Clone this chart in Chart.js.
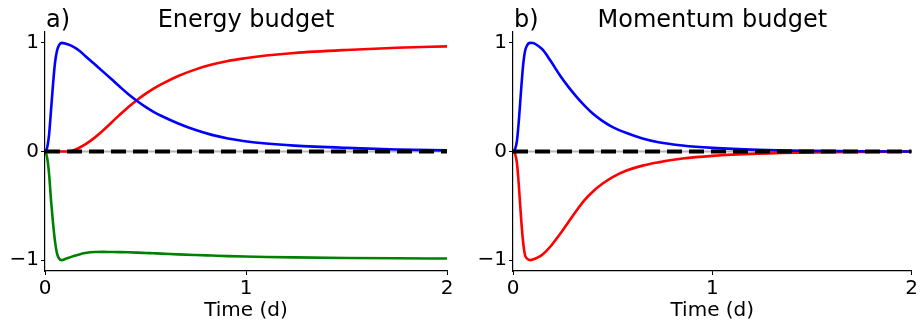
<!DOCTYPE html>
<html>
<head>
<meta charset="utf-8">
<script src="https://cdn.jsdelivr.net/npm/chart.js@4/dist/chart.umd.min.js"></script>
<style>
  html, body { margin: 0; padding: 0; background: #ffffff; }
  #wrap { position: relative; width: 920px; height: 325px; overflow: hidden; }
  canvas { position: absolute; top: 0; }
</style>
</head>
<body>
<div id="wrap">
  <canvas id="energy" width="460" height="325" style="left:0px"></canvas>
  <canvas id="momentum" width="460" height="325" style="left:460px"></canvas>
</div>
<script>
// ---- Energy budget (normalised terms vs time in days) ----
const energyTime  = [0, 0.01, 0.02, 0.03, 0.04, 0.05, 0.06, 0.07, 0.083, 0.1, 0.13, 0.166, 0.2, 0.249, 0.29, 0.33, 0.37, 0.415, 0.46, 0.5, 0.54, 0.58, 0.663, 0.75, 0.83, 0.91, 0.995, 1.1, 1.24, 1.5, 1.75, 2.0];
const energyBlue  = [0, 0.03, 0.15, 0.38, 0.62, 0.82, 0.93, 0.98, 1.0, 0.995, 0.975, 0.935, 0.88, 0.80, 0.733, 0.667, 0.60, 0.527, 0.462, 0.41, 0.365, 0.327, 0.258, 0.197, 0.153, 0.12, 0.095, 0.073, 0.054, 0.033, 0.019, 0.01];
const energyRed   = [0, 0, 0, 0, 0, 0, 0, 0, 0, 0, 0.005, 0.03, 0.065, 0.13, 0.195, 0.265, 0.335, 0.41, 0.477, 0.53, 0.578, 0.62, 0.695, 0.756, 0.80, 0.833, 0.858, 0.883, 0.907, 0.935, 0.955, 0.968];
const energyGreen = [0, -0.05, -0.2, -0.45, -0.66, -0.83, -0.94, -0.985, -1.0, -0.99, -0.97, -0.95, -0.935, -0.925, -0.924, -0.925, -0.926, -0.928, -0.931, -0.934, -0.937, -0.94, -0.947, -0.953, -0.958, -0.963, -0.967, -0.971, -0.975, -0.98, -0.983, -0.985];

// ---- Momentum budget ----
const momentumTime = [0, 0.01, 0.02, 0.03, 0.04, 0.05, 0.06, 0.07, 0.086, 0.1, 0.12, 0.15, 0.19, 0.236, 0.28, 0.32, 0.36, 0.40, 0.45, 0.5, 0.57, 0.65, 0.73, 0.85, 1.0, 1.23, 1.5, 1.75, 2.0];
const momentumBlue = [0, 0.02, 0.1, 0.3, 0.55, 0.78, 0.92, 0.975, 1.0, 0.998, 0.98, 0.935, 0.83, 0.70, 0.59, 0.50, 0.42, 0.35, 0.28, 0.225, 0.17, 0.12, 0.085, 0.055, 0.033, 0.015, 0.006, 0.002, 0];
const momentumRed  = [0, -0.02, -0.11, -0.33, -0.6, -0.82, -0.95, -0.985, -1.0, -0.995, -0.98, -0.945, -0.87, -0.76, -0.645, -0.54, -0.445, -0.37, -0.295, -0.235, -0.175, -0.13, -0.1, -0.065, -0.04, -0.02, -0.008, -0.003, 0];

// ---- Axes ----
const timeTicks  = [0, 1, 2];
const valueTicks = [-1, 0, 1];
const zeroLine   = [0, 0];
const zeroTime   = [0, 2];

const FONT = "'DejaVu Sans', sans-serif";

function pts(xs, ys) { return xs.map((x, i) => ({ x: x, y: ys[i] })); }

function curve(xs, ys, color) {
  return {
    data: pts(xs, ys),
    borderColor: color,
    borderWidth: 2.6,
    pointRadius: 0,
    fill: false,
    cubicInterpolationMode: 'monotone'
  };
}

// Panel letter and centred heading above the plot area
const headings = {
  id: 'headings',
  afterDraw(chart, args, opts) {
    const ctx = chart.ctx;
    const area = chart.chartArea;
    ctx.save();
    ctx.fillStyle = '#000000';
    ctx.font = '24px ' + FONT;
    ctx.textBaseline = 'alphabetic';
    ctx.textAlign = 'left';
    ctx.fillText(opts.letter, area.left + 1, 27);
    ctx.textAlign = 'center';
    ctx.fillText(opts.title, (area.left + area.right) / 2, 27);
    ctx.restore();
  }
};

function makePanel(canvasId, letter, title, yWidth, padRight, series) {
  const datasets = [
    { data: pts(zeroTime, zeroLine), borderColor: '#b4b4b4', borderWidth: 2, pointRadius: 0, order: 10 }
  ];
  series.forEach((s, i) => { const d = curve(s[0], s[1], s[2]); d.order = 5 - i; datasets.push(d); });
  datasets.push({ data: pts(zeroTime, zeroLine), borderColor: '#000000', borderWidth: 4, borderDash: [15, 7], pointRadius: 0, order: 0 });

  return new Chart(document.getElementById(canvasId), {
    type: 'line',
    data: { datasets: datasets },
    plugins: [headings],
    options: {
      responsive: false,
      animation: false,
      devicePixelRatio: 1,
      layout: { padding: { top: 32, right: padRight, bottom: 0, left: 0 }, autoPadding: false },
      plugins: {
        legend: { display: false },
        tooltip: { enabled: false },
        headings: { letter: letter, title: title }
      },
      scales: {
        x: {
          type: 'linear',
          min: 0, max: 2,
          afterBuildTicks: (scale) => { scale.ticks = timeTicks.map(v => ({ value: v })); },
          afterFit: (scale) => { scale.height = 54; },
          grid: { drawOnChartArea: false, drawTicks: true, tickLength: 4, tickWidth: 1, tickColor: '#000000' },
          border: { display: true, color: '#000000', width: 1.2 },
          ticks: { color: '#000000', font: { family: FONT, size: 20 }, padding: 2, maxRotation: 0, autoSkip: false,
                   callback: (v) => String(v) },
          title: { display: true, text: 'Time (d)', color: '#000000', font: { family: FONT, size: 20 }, padding: { top: 0, bottom: 2 } }
        },
        y: {
          type: 'linear',
          min: -1.1, max: 1.1,
          afterBuildTicks: (scale) => { scale.ticks = valueTicks.map(v => ({ value: v })); },
          afterFit: (scale) => { scale.width = yWidth; },
          grid: { drawOnChartArea: false, drawTicks: true, tickLength: 4, tickWidth: 1, tickColor: '#000000' },
          border: { display: true, color: '#000000', width: 1.2 },
          ticks: { color: '#000000', font: { family: FONT, size: 20 }, padding: 2, autoSkip: false,
                   callback: (v) => (v < 0 ? '\u2212' + Math.abs(v) : String(v)) }
        }
      }
    }
  });
}

makePanel('energy', 'a)', 'Energy budget', 45, 13, [
  [energyTime, energyGreen, '#008000'],
  [energyTime, energyRed, '#ff0000'],
  [energyTime, energyBlue, '#0000ff']
]);

makePanel('momentum', 'b)', 'Momentum budget', 53, 6, [
  [momentumTime, momentumRed, '#ff0000'],
  [momentumTime, momentumBlue, '#0000ff']
]);
</script>
</body>
</html>
